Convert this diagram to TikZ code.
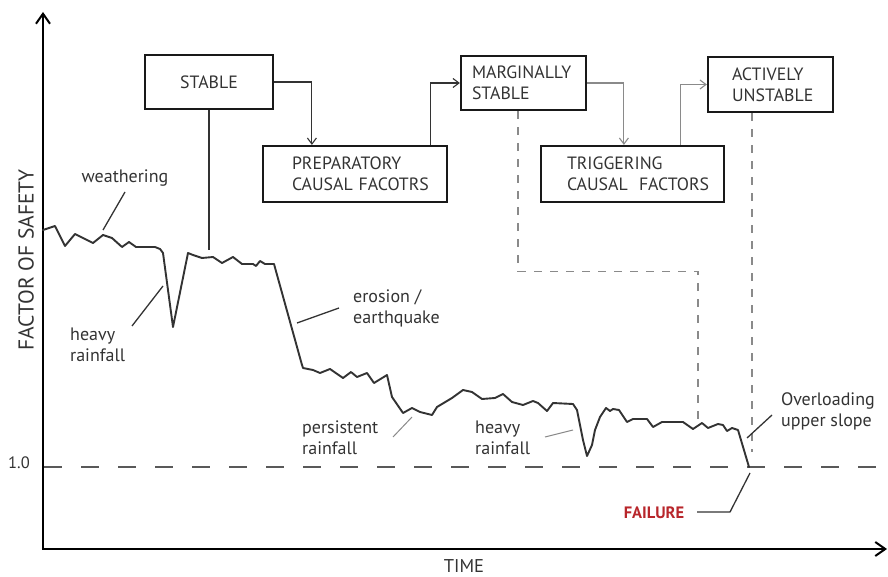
\documentclass[tikz,border=0pt]{standalone}
\usepackage{fontspec}
\setmainfont{PT Sans}
\usetikzlibrary{arrows.meta}
\definecolor{ink}{HTML}{333333}
\definecolor{gline}{HTML}{8A8A8A}
\definecolor{failred}{HTML}{B8262B}
\begin{document}
\begin{tikzpicture}[x=1pt,y=-1pt,
  lbl/.style={font=\fontsize{18}{21}\selectfont, text=ink, align=left, inner sep=0pt},
  bx/.style={draw=black!90, line width=2.2pt, inner sep=0pt, font=\fontsize{17.8}{21}\selectfont, text=ink, align=left},
  conn/.style={draw=ink, line width=1.1pt, -{Straight Barb[length=6pt,width=9pt]}},
  gconn/.style={draw=gline, line width=1.1pt, -{Straight Barb[length=6pt,width=9pt]}},
  gdash/.style={draw=gline, line width=1.2pt, dash pattern=on 8pt off 8pt},
  lead/.style={draw=ink, line width=1.3pt},
  glead/.style={draw=gline, line width=1pt},
  axis/.style={draw=black, line width=2.3pt, -{Straight Barb[length=10pt,width=14pt,line width=2pt]}}
]
\useasboundingbox (0,0) rectangle (888,577);

% axes
\coordinate (o) at (43,549);
\coordinate (ytop) at (43,12);
\coordinate (xend) at (887,549);
\draw[axis] (o) -- (ytop);
\draw[axis] ([xshift=-1.15pt]o) -- (xend);
\node[text=ink, inner sep=0pt, rotate=90, font=\fontsize{21.5}{24}\selectfont] (ylab) at (26,260) {FACTOR OF SAFETY};
\node[text=ink, inner sep=0pt, anchor=base, font=\fontsize{18.5}{21}\selectfont] (xlab) at (464,572) {TIME};
\node[text=ink, inner sep=0pt, font=\fontsize{16.5}{18}\selectfont] (one) at (19,463) {1.0};

% FS = 1 line
\coordinate (d1) at (44,467);
\coordinate (d2) at (888,467);
\draw[draw=black!65, line width=1.8pt, dash pattern=on 18pt off 19pt] (d1) -- (d2);

% boxes
\node[bx, minimum width=128pt, minimum height=54pt, align=center] (stable) at (209,82) {STABLE};
\node[bx, text width=184pt, minimum height=56pt] (prep) at (355,174)
  {\hspace*{29pt}PREPARATORY\\\hspace*{29pt}CAUSAL FACOTRS};
\node[bx, text width=125pt, minimum height=54pt] (marg) at (523.5,83)
  {\hspace*{11pt}MARGINALLY\\\hspace*{11pt}STABLE};
\node[bx, text width=183pt, minimum height=56pt] (trig) at (632.5,174)
  {\hspace*{26pt}TRIGGERING\\\hspace*{26pt}CAUSAL\hspace{0.3em} FACTORS};
\node[bx, text width=125pt, minimum height=55pt] (act) at (770.5,84.5)
  {\hspace*{24pt}ACTIVELY\\\hspace*{24pt}UNSTABLE};

% connectors
\draw[conn] (stable.east) -| ([xshift=50pt]prep.north west);
\draw[conn] ([xshift=-18pt]prep.north east) |- (marg.west);
\draw[gconn] (marg.east) -| ([xshift=84pt]trig.north west);
\draw[gconn] ([xshift=-45pt]trig.north east) |- (act.west);

% dashed drop lines
\coordinate (dm) at (698,422);
\coordinate (da) at (752,452);
\draw[gdash] ([xshift=-5.5pt]marg.south) -- ++(0,160) -| (dm);
\draw[gdash] ([xshift=-18.5pt]act.south) -- (da);

% stable line to curve
\coordinate (sc) at (209,250);
\draw[draw=ink, line width=1.2pt] (stable.south) -- (sc);

% factor of safety curve
\draw[draw=ink, line width=1.9pt, line join=round, line cap=round]
 (43,230) -- (55,226) -- (65,246) -- (75,234) -- (93,243) -- (103,235) -- (112,238)
 -- (122,247) -- (129,242) -- (136,247) -- (155,247) -- (160,249) -- (163,253) -- (173,327)
 -- (188,253) -- (193,255) -- (202,258) -- (213,257) -- (222,263) -- (233,257)
 -- (242,264) -- (253,264) -- (256,266) -- (260,261) -- (265,264) -- (274,264)
 -- (302,365) -- (303,368) -- (313,370) -- (320,373) -- (330,369) -- (343,378)
 -- (351,372) -- (357,377) -- (367,373) -- (374,383) -- (387,375) -- (392,397)
 -- (403,413) -- (412,408) -- (420,412) -- (432,415) -- (437,407) -- (452,398)
 -- (463,390) -- (472,392) -- (482,399) -- (495,398) -- (503,394) -- (512,402)
 -- (523,405) -- (533,401) -- (538,403) -- (547,411) -- (553,403) -- (573,404)
 -- (577,410) -- (583,440) -- (587,456) -- (592,445) -- (595,430) -- (600,417)
 -- (606,408) -- (610,411) -- (613,409) -- (619,410) -- (627,422) -- (633,419)
 -- (647,419) -- (653,427) -- (662,422) -- (683,422) -- (693,429) -- (702,423)
 -- (708,428) -- (718,424) -- (723,425) -- (727,431) -- (732,428) -- (738,430)
 -- (749,467);

% annotations
\node[lbl, anchor=center] (weath) at (125,178) {weathering};
\coordinate (w1) at (125,192); \coordinate (w2) at (103,230);
\draw[lead] (w1) -- (w2);

\node[lbl, anchor=west] (hr1) at (70,345) {heavy\\rainfall};
\coordinate (h1) at (132,326); \coordinate (h2) at (163,286);
\draw[lead] (h1) -- (h2);

\node[lbl, anchor=west] (eros) at (353,308) {erosion /\\earthquake};
\coordinate (e1) at (339,308); \coordinate (e2) at (297,323);
\draw[lead] (e1) -- (e2);

\node[lbl, anchor=west] (pers) at (302,437.5) {persistent\\rainfall};
\coordinate (p1) at (393,437); \coordinate (p2) at (412,417);
\draw[glead] (p1) -- (p2);

\node[lbl, anchor=west] (hr2) at (475,437.5) {heavy\\rainfall};
\coordinate (r1) at (545,437); \coordinate (r2) at (573,430);
\draw[glead] (r1) -- (r2);

\node[lbl, anchor=west] (over) at (781,411.5) {Overloading\\upper slope};
\coordinate (v1) at (772,415); \coordinate (v2) at (747,438);
\draw[lead] (v1) -- (v2);

\node[lbl, anchor=center, text=failred, font=\fontsize{16.5}{18}\selectfont\bfseries] (fail) at (654,513) {FAILURE};
\coordinate (f1) at (697,512); \coordinate (f2) at (730,512); \coordinate (f3) at (750,473);
\draw[lead] (f1) -- (f2) -- (f3);
\end{tikzpicture}
\end{document}
